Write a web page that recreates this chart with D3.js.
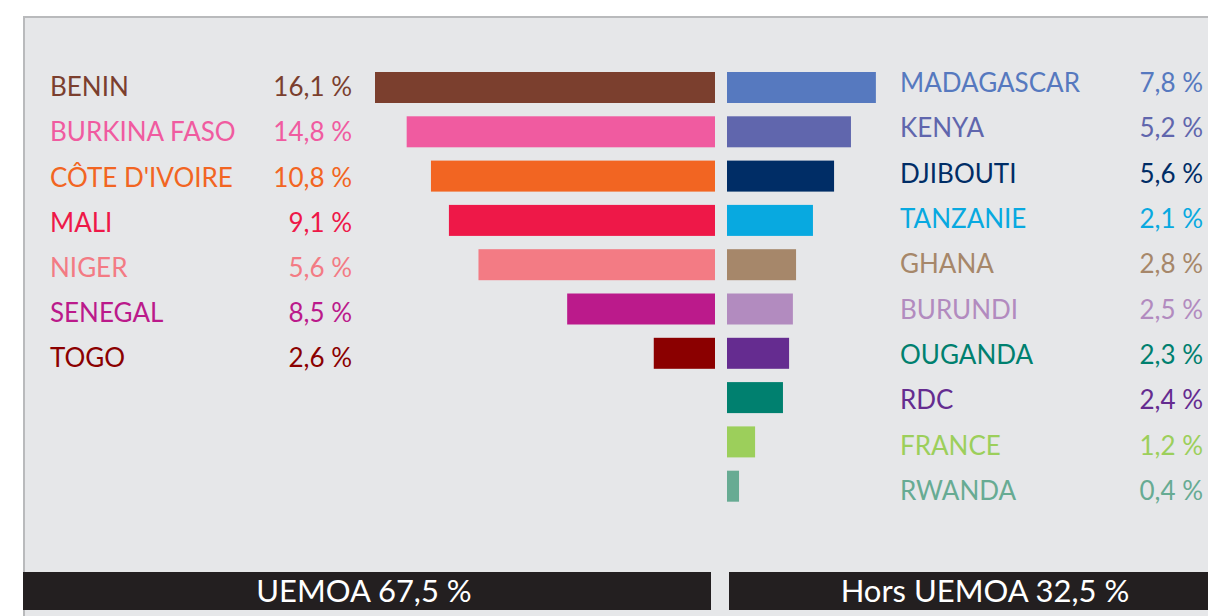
<!DOCTYPE html>
<html>
<head>
<meta charset="utf-8">
<title>UEMOA / Hors UEMOA</title>
<style>
  body { margin: 0; background: #fff; }
  svg { display: block; }
  .lbl { font-family: "Lato", "Noto Sans", sans-serif; font-size: 26px; font-weight: 400; }
  .foot { font-family: "Lato", "Noto Sans", sans-serif; font-size: 31px; font-weight: 400; fill: #fff; }
</style>
</head>
<body>
<div id="container"></div>
<script src="https://cdn.jsdelivr.net/npm/d3@7"></script>
<script>
// UEMOA countries (left)
var leftNames = ["BENIN", "BURKINA FASO", "CÔTE D'IVOIRE", "MALI", "NIGER", "SENEGAL", "TOGO"];
var leftLabels = [16.1, 14.8, 10.8, 9.1, 5.6, 8.5, 2.6];
// bar lengths as drawn in the picture (same unit as the labels)
var leftBars = [16.1, 14.6, 13.45, 12.6, 11.2, 7.0, 2.9];
var leftColors = ["#7b3f2e", "#f05ba0", "#f26522", "#ee1848", "#f37b84", "#bb1a8b", "#8b0000"];

// other countries (right)
var rightNames = ["MADAGASCAR", "KENYA", "DJIBOUTI", "TANZANIE", "GHANA", "BURUNDI", "OUGANDA", "RDC", "FRANCE", "RWANDA"];
var rightLabels = [7.8, 5.2, 5.6, 2.1, 2.8, 2.5, 2.3, 2.4, 1.2, 0.4];
var rightBars = [7.05, 5.87, 5.07, 4.07, 3.27, 3.12, 2.94, 2.65, 1.33, 0.57];
var rightColors = ["#5679bf", "#6066ad", "#002d66", "#08a9e0", "#a6876a", "#b28bbf", "#00806f", "#652c90", "#9ccf5b", "#67ab93"];
var rightBarColors = ["#5679bf", "#6066ad", "#002d66", "#08a9e0", "#a6876a", "#b28bbf", "#652c90", "#00806f", "#9ccf5b", "#67ab93"];

var totals = ["UEMOA 67,5 %", "Hors UEMOA 32,5 %"];

var W = 1208, H = 616;
var svg = d3.select("#container").append("svg")
  .attr("width", W).attr("height", H);

// panel
svg.append("rect").attr("x", 24).attr("y", 17).attr("width", W).attr("height", H)
  .style("fill", "#e6e7e9").style("stroke", "#b9babc").style("stroke-width", 2);

function fmt(v) { return d3.format(".1f")(v).replace(".", ",") + " %"; }

var x = d3.scaleLinear().domain([0, 16.1]).range([0, 340]);
var barY = d3.scaleLinear().domain([0, 1]).range([72, 116.3]);
var barH = 31;
var leftY = d3.scaleLinear().domain([0, 1]).range([87, 132.2]);
var rightY = d3.scaleLinear().domain([0, 1]).range([83, 128.3]);
var midL = 715, midR = 727;

// left bars
svg.selectAll(".lbar").data(leftBars).enter().append("rect")
  .attr("x", function(d) { return midL - x(d); })
  .attr("y", function(d, i) { return barY(i); })
  .attr("width", function(d) { return x(d); })
  .attr("height", barH)
  .style("fill", function(d, i) { return leftColors[i]; });

// right bars
svg.selectAll(".rbar").data(rightBars).enter().append("rect")
  .attr("x", midR)
  .attr("y", function(d, i) { return barY(i); })
  .attr("width", function(d) { return x(d); })
  .attr("height", barH)
  .style("fill", function(d, i) { return rightBarColors[i]; });

// left labels
svg.selectAll(".lname").data(leftNames).enter().append("text")
  .attr("class", "lbl")
  .attr("x", 50).attr("y", function(d, i) { return leftY(i); })
  .attr("dy", "0.35em")
  .style("fill", function(d, i) { return leftColors[i]; })
  .text(function(d) { return d; });
svg.selectAll(".lval").data(leftLabels).enter().append("text")
  .attr("class", "lbl")
  .attr("x", 352).attr("y", function(d, i) { return leftY(i); })
  .attr("dy", "0.35em").attr("text-anchor", "end")
  .style("fill", function(d, i) { return leftColors[i]; })
  .text(fmt);

// right labels
svg.selectAll(".rname").data(rightNames).enter().append("text")
  .attr("class", "lbl")
  .attr("x", 900).attr("y", function(d, i) { return rightY(i); })
  .attr("dy", "0.35em")
  .style("fill", function(d, i) { return rightColors[i]; })
  .text(function(d) { return d; });
svg.selectAll(".rval").data(rightLabels).enter().append("text")
  .attr("class", "lbl")
  .attr("x", 1203).attr("y", function(d, i) { return rightY(i); })
  .attr("dy", "0.35em").attr("text-anchor", "end")
  .style("fill", function(d, i) { return rightColors[i]; })
  .text(fmt);

// footer bands
var bands = [{x0: 23, x1: 711}, {x0: 729, x1: W}];
bands.forEach(function(b, i) {
  svg.append("rect").attr("x", b.x0).attr("y", 572).attr("width", b.x1 - b.x0).attr("height", 38)
    .style("fill", "#231f20");
  svg.append("text").attr("class", "foot")
    .attr("x", i == 0 ? 364 : 985).attr("y", 591).attr("dy", "0.36em")
    .attr("text-anchor", "middle")
    .text(totals[i]);
});
</script>
</body>
</html>
